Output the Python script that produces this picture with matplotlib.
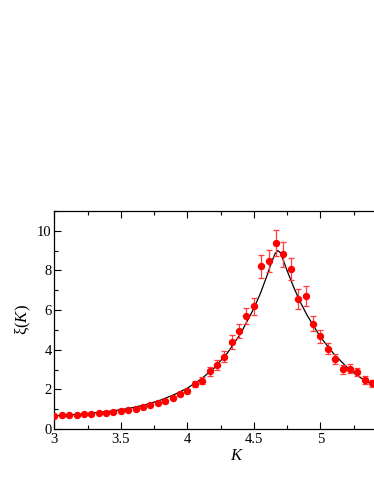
import matplotlib
matplotlib.use("Agg")
import matplotlib.pyplot as plt
from matplotlib.ticker import MultipleLocator, FuncFormatter

plt.rcParams['font.family'] = ['Liberation Serif', 'DejaVu Serif']
plt.rcParams['mathtext.fontset'] = 'custom'
plt.rcParams['mathtext.rm'] = 'Liberation Serif'
plt.rcParams['mathtext.it'] = 'Liberation Serif:italic'

# data points
K_data = [3.000, 3.056, 3.111, 3.167, 3.222, 3.278, 3.333, 3.389, 3.444, 3.500,
          3.556, 3.611, 3.667, 3.722, 3.778, 3.833, 3.889, 3.944, 4.000, 4.056,
          4.111, 4.167, 4.222, 4.278, 4.333, 4.389, 4.444, 4.500, 4.556, 4.611,
          4.667, 4.722, 4.778, 4.833, 4.889, 4.944, 5.000, 5.056, 5.111, 5.167,
          5.222, 5.278, 5.333, 5.389, 5.444, 5.500]
xi_data = [0.67, 0.69, 0.71, 0.72, 0.74, 0.77, 0.79, 0.82, 0.86, 0.91,
           0.96, 1.01, 1.12, 1.22, 1.31, 1.40, 1.58, 1.78, 1.90, 2.25,
           2.44, 2.91, 3.24, 3.65, 4.40, 4.95, 5.71, 6.19, 8.20, 8.47,
           9.38, 8.81, 8.08, 6.56, 6.71, 5.30, 4.67, 4.05, 3.53, 3.01,
           3.04, 2.87, 2.47, 2.30, 2.13, 1.95]
xi_err = [0.03, 0.03, 0.03, 0.03, 0.03, 0.03, 0.03, 0.03, 0.04, 0.04,
          0.04, 0.05, 0.05, 0.06, 0.06, 0.07, 0.08, 0.09, 0.10, 0.15,
          0.18, 0.22, 0.24, 0.28, 0.35, 0.36, 0.40, 0.42, 0.58, 0.56,
          0.66, 0.63, 0.57, 0.50, 0.52, 0.38, 0.32, 0.29, 0.26, 0.22,
          0.22, 0.21, 0.18, 0.17, 0.16, 0.14]

# fitted curve
K_fit = [3.0, 3.2, 3.4, 3.5, 3.6, 3.7, 3.8, 3.9, 4.0, 4.1, 4.2, 4.3, 4.4, 4.5,
         4.55, 4.6, 4.63, 4.66, 4.68, 4.70, 4.72, 4.75, 4.8, 4.85, 4.9, 5.0,
         5.1, 5.2, 5.3, 5.4, 5.5]
xi_fit = [0.66, 0.75, 0.88, 0.97, 1.09, 1.25, 1.46, 1.73, 2.06, 2.50, 3.06, 3.82,
          4.80, 6.08, 6.85, 7.75, 8.35, 8.85, 9.00, 8.90, 8.55, 8.00, 7.15, 6.40,
          5.75, 4.65, 3.80, 3.12, 2.60, 2.20, 1.90]

x_ticks = [3, 3.5, 4, 4.5, 5, 5.5]
x_ticklabels = ['3', '3.5', '4', '4.5', '5', '']
y_ticks = [0, 2, 4, 6, 8, 10]

fig = plt.figure(figsize=(3.74, 4.84), dpi=100)
ax = fig.add_axes([54.3 / 374, 55 / 484, 365.75 / 374, 218 / 484])

ax.plot(K_fit, xi_fit, color='black', lw=0.9, zorder=2)
ax.errorbar(K_data, xi_data, yerr=xi_err, fmt='o', color='red', ms=4.3,
            ecolor='#ff3b3b', elinewidth=0.9, capsize=2.5, capthick=0.9,
            zorder=3)

ax.set_xlim(3, 5.75)
ax.set_ylim(0, 11)
ax.set_xticks(x_ticks)
ax.set_xticklabels(x_ticklabels)
ax.set_yticks(y_ticks)
ax.set_yticklabels([f"{v:g}" for v in y_ticks])
ax.xaxis.set_minor_locator(MultipleLocator(0.25))
ax.yaxis.set_minor_locator(MultipleLocator(1))
ax.tick_params(which='both', direction='in', top=True, right=True,
               width=0.8, labelsize=10.5)
ax.tick_params(axis='x', which='major', pad=3)
ax.tick_params(axis='y', which='major', pad=2)
ax.tick_params(which='major', length=5)
ax.tick_params(which='minor', length=3)
for s in ax.spines.values():
    s.set_linewidth(0.9)

ax.set_xlabel(r'$\mathit{K}$', fontsize=12, labelpad=1)
ax.set_ylabel(r'ξ($\mathit{K}$)', fontsize=12, labelpad=3)

fig.savefig('out.png', dpi=100)
